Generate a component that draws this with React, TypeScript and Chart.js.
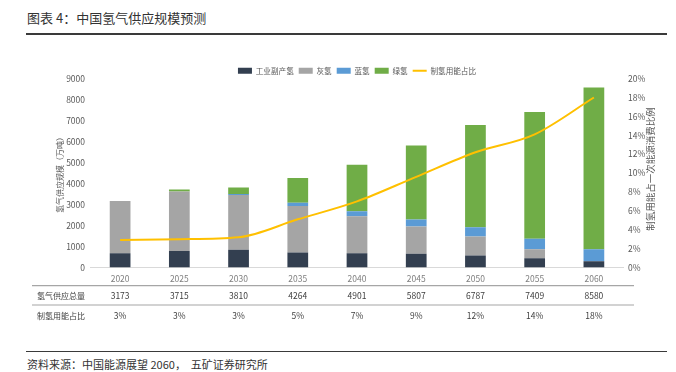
import React, { useEffect, useRef } from "react";
import { Chart, registerables } from "chart.js";

Chart.register(...registerables);

const years = ["2020", "2025", "2030", "2035", "2040", "2045", "2050", "2055", "2060"];
const byproduct = [680, 790, 840, 710, 680, 650, 570, 440, 300];
const grey = [2493, 2830, 2615, 2215, 1765, 1300, 910, 435, 0];
const blue = [0, 0, 50, 165, 240, 335, 435, 495, 575];
const green = [0, 95, 305, 1174, 2216, 3522, 4872, 6039, 7705];
const energyShare = [2.9, 3.0, 3.2, 5.1, 7.0, 9.6, 12.2, 14.1, 18.0];
const totalSupply = ["3173", "3715", "3810", "4264", "4901", "5807", "6787", "7409", "8580"];
const shareLabels = ["3%", "3%", "3%", "5%", "7%", "9%", "12%", "14%", "18%"];
const leftTicks = { min: 0, max: 9000, step: 1000 };
const rightTicks = { min: 0, max: 20, step: 2 };
const rightTitle = "制氢用能占一次能源消费比例";

const FONT = '"Noto Sans CJK SC", "Noto Sans", sans-serif';
const TOP = 40;

const tablePlugin = {
  id: "tablePlugin",
  afterLayout(chart: any) {
    if (chart.legend) {
      chart.legend.top += 6;
      chart.legend.bottom += 6;
    }
  },
  afterDraw(chart: any) {
    const { ctx } = chart;
    const x = chart.scales.x;
    const area = chart.chartArea;
    ctx.save();
    // right axis title, reading bottom to top
    ctx.save();
    ctx.translate(650, (area.top + area.bottom) / 2 - 4);
    ctx.rotate(-Math.PI / 2);
    ctx.fillStyle = "#595959";
    ctx.font = `9.5px ${FONT}`;
    ctx.textAlign = "center";
    ctx.textBaseline = "middle";
    ctx.fillText(rightTitle, 0, 0);
    ctx.restore();

    ctx.strokeStyle = "#a6a6a6";
    ctx.lineWidth = 1.2;
    [285.7, 305].forEach((py) => {
      ctx.beginPath();
      ctx.moveTo(32, py - TOP);
      ctx.lineTo(634, py - TOP);
      ctx.stroke();
    });
    ctx.fillStyle = "#404040";
    ctx.textBaseline = "middle";
    ctx.textAlign = "left";
    ctx.font = `8px ${FONT}`;
    ctx.fillText("氢气供应总量", 37, 295.7 - TOP);
    ctx.fillText("制氢用能占比", 37, 315.5 - TOP);
    ctx.textAlign = "center";
    ctx.font = `8.5px ${FONT}`;
    years.forEach((_, i) => {
      const px = x.getPixelForValue(i);
      ctx.fillText(totalSupply[i], px, 295.7 - TOP);
      ctx.fillText(shareLabels[i], px, 315.5 - TOP);
    });
    ctx.restore();
  },
};

export default function App() {
  const ref = useRef<HTMLCanvasElement>(null);
  useEffect(() => {
    if (!ref.current) return;
    const chart = new Chart(ref.current, {
      type: "bar",
      data: {
        labels: years,
        datasets: [
          { label: "工业副产氢", data: byproduct, backgroundColor: "#333f50", stack: "s", yAxisID: "y", order: 1, pointStyle: "rect" } as any,
          { label: "灰氢", data: grey, backgroundColor: "#a5a5a5", stack: "s", yAxisID: "y", order: 1, pointStyle: "rect" },
          { label: "蓝氢", data: blue, backgroundColor: "#5b9bd5", stack: "s", yAxisID: "y", order: 1, pointStyle: "rect" },
          { label: "绿氢", data: green, backgroundColor: "#70ad47", stack: "s", yAxisID: "y", order: 1, pointStyle: "rect" },
          {
            type: "line",
            label: "制氢用能占比",
            data: energyShare,
            borderColor: "#ffc000",
            backgroundColor: "#ffc000",
            borderWidth: 2,
            pointRadius: 0,
            pointStyle: "line",
            cubicInterpolationMode: "monotone",
            yAxisID: "y1",
            order: 0,
          },
        ],
      },
      options: {
        responsive: false,
        animation: false,
        layout: { padding: { left: 38, right: 0, top: 16, bottom: 57.5 } },
        datasets: { bar: { categoryPercentage: 1, barPercentage: 0.35 } },
        plugins: {
          legend: {
            position: "top",
            align: "center",
            labels: {
              usePointStyle: true,
              pointStyleWidth: 14,
              boxHeight: 6,
              padding: 5,
              color: "#595959",
              font: { family: FONT, size: 7.6 },
              sort: (a: any, b: any) => a.datasetIndex - b.datasetIndex,
            },
          },
          tooltip: { enabled: false },
        },
        scales: {
          x: {
            stacked: true,
            grid: { display: false, drawTicks: false },
            border: { display: true, color: "#d9d9d9" },
            ticks: { color: "#7f7f7f", padding: 6, font: { family: FONT, size: 8.5 } },
            afterFit: (s: any) => { s.height = 15; },
          },
          y: {
            stacked: true,
            position: "left",
            min: leftTicks.min,
            max: leftTicks.max,
            grid: { display: false, drawTicks: false },
            border: { display: false },
            ticks: { stepSize: leftTicks.step, color: "#595959", padding: 5.5, font: { family: FONT, size: 8.5 }, callback: (v: any) => `${v}` },
            title: { display: true, text: "氢气供应规模（万吨）", color: "#595959", padding: { top: 17, bottom: 0 }, font: { family: FONT, size: 8 } },
            afterFit: (s: any) => { s.width = 52.5; },
          },
          y1: {
            position: "right",
            min: rightTicks.min,
            max: rightTicks.max,
            grid: { display: false, drawTicks: false },
            border: { display: false },
            ticks: { stepSize: rightTicks.step, color: "#595959", padding: 4.5, font: { family: FONT, size: 8.5 }, callback: (v: any) => `${v}%` },
            title: { display: false },
            afterFit: (s: any) => { s.width = 52.5; },
          },
        },
      } as any,
      plugins: [tablePlugin],
    });
    return () => chart.destroy();
  }, []);

  return (
    <div style={{ position: "absolute", left: 0, top: 0, width: 676, height: 372, background: "#fff", fontFamily: FONT, overflow: "hidden" }}>
      <div style={{ position: "absolute", left: 27, top: 9, fontSize: 13, lineHeight: "18px", color: "#333" }}>图表 4：中国氢气供应规模预测</div>
      <div style={{ position: "absolute", left: 26, top: 32.5, width: 641, height: 2, background: "#3a3a3a" }} />
      <canvas ref={ref} width={676} height={300} style={{ position: "absolute", left: 0, top: TOP, width: 676, height: 300 }} />
      <div style={{ position: "absolute", left: 26, top: 350.5, width: 641, height: 1.5, background: "#3a3a3a" }} />
      <div style={{ position: "absolute", left: 27, top: 356, fontSize: 11, lineHeight: "16px", color: "#333" }}>资料来源：中国能源展望 2060，&nbsp;&nbsp;五矿证券研究所</div>
    </div>
  );
}
